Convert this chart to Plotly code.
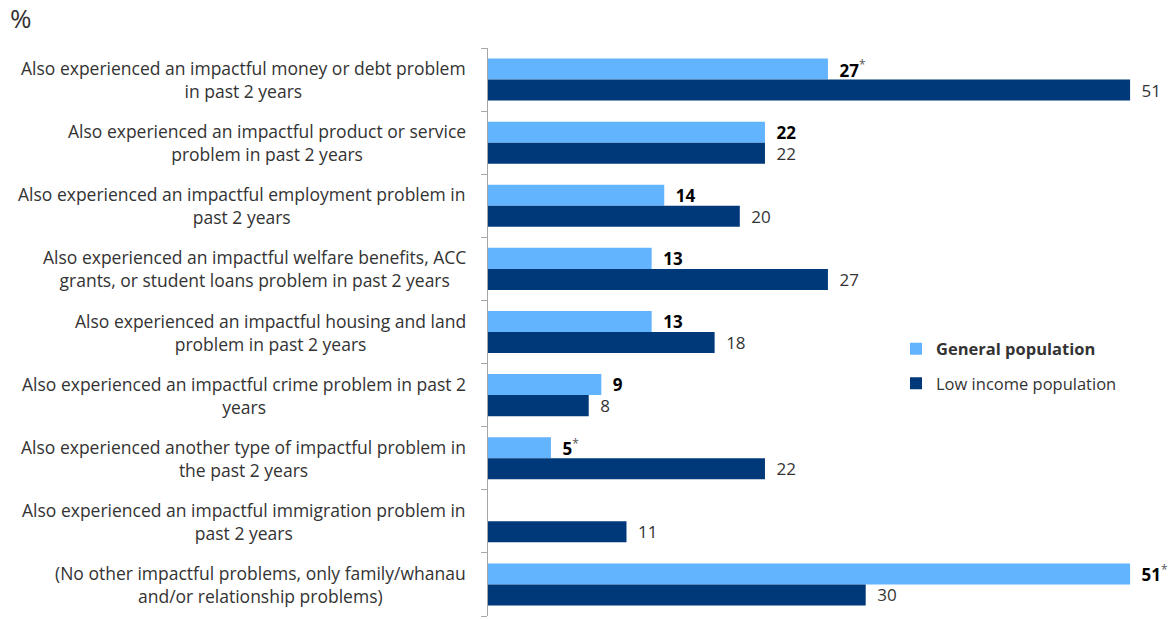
import plotly.graph_objects as go

# Category labels (wrapped as shown on the axis)
categories = [
    "Also experienced an impactful money or debt problem<br>in past 2 years",
    "Also experienced an impactful product or service<br>problem in past 2 years",
    "Also experienced an impactful employment problem in<br>past 2 years",
    "Also experienced an impactful welfare benefits, ACC<br>grants, or student loans problem in past 2 years",
    "Also experienced an impactful housing and land<br>problem in past 2 years",
    "Also experienced an impactful crime problem in past 2<br>years",
    "Also experienced another type of impactful problem in<br>the past 2 years",
    "Also experienced an impactful immigration problem in<br>past 2 years",
    "(No other impactful problems, only family/whanau<br>and/or relationship problems)",
]

general_population = [27, 22, 14, 13, 13, 9, 5, None, 51]
general_significant = [True, False, False, False, False, False, True, False, True]
low_income_population = [51, 22, 20, 27, 18, 8, 22, 11, 30]

LIGHT = "#63B4FE"
DARK = "#00397A"
FONT = "Open Sans"
PAD = "\u2002"

positions = list(range(len(categories)))

general_text = []
for v, sig in zip(general_population, general_significant):
    if v is None:
        general_text.append("")
    else:
        t = f"{PAD}<b>{v}</b>"
        if sig:
            t += "<sup><span style='color:#555'>*</span></sup>"
        general_text.append(t)

low_text = [f"{PAD}{v}" for v in low_income_population]

fig = go.Figure()
fig.add_trace(go.Bar(
    y=positions, x=general_population, orientation="h",
    name="<b>General population</b>",
    marker=dict(color=LIGHT, line=dict(width=0)),
    text=general_text, textposition="outside", cliponaxis=False,
    constraintext="none",
    textfont=dict(family=FONT, size=17, color="#000000"),
    legendgroup="g", hoverinfo="skip",
))
fig.add_trace(go.Bar(
    y=positions, x=low_income_population, orientation="h",
    name="Low income population",
    marker=dict(color=DARK, line=dict(width=0)),
    text=low_text, textposition="outside", cliponaxis=False,
    constraintext="none",
    textfont=dict(family=FONT, size=17, color="#333333"),
    legendgroup="l", hoverinfo="skip",
))

left = 488
plot_w = 1176 - left
x_max = plot_w / 12.59

annotations = []
for i, label in enumerate(categories):
    annotations.append(dict(
        x=(468 - left) / plot_w, xref="paper", xanchor="right",
        y=i, yref="y", yanchor="middle",
        text=label, showarrow=False, align="center",
        font=dict(family=FONT, size=17.5, color="#333333"),
    ))

fig.update_layout(
    width=1176, height=619,
    margin=dict(l=left, r=0, t=48, b=3),
    paper_bgcolor="white", plot_bgcolor="white",
    barmode="group", bargap=1 / 3, bargroupgap=0,
    showlegend=True,
    legend=dict(
        x=(896 - left) / plot_w, y=(616 - 366) / 568, xanchor="left", yanchor="middle",
        font=dict(family=FONT, size=16.5, color="#333333"),
        bgcolor="rgba(0,0,0,0)", traceorder="grouped", tracegroupgap=10,
        itemwidth=30,
    ),
    title=dict(
        text="%", x=10 / 1176, xanchor="left", xref="container",
        y=1 - 10 / 619, yanchor="top", yref="container",
        font=dict(family=FONT, size=26, color="#333333"),
    ),
    xaxis=dict(range=[0, x_max], visible=False, fixedrange=True),
    yaxis=dict(
        type="linear", range=[len(categories) - 0.5, -0.5],
        showticklabels=False, showgrid=False, zeroline=False,
        showline=True, linecolor="#A6A6A6", linewidth=1,
        ticks="outside", ticklen=6, tickcolor="#A6A6A6",
        tickmode="array", tickvals=[i - 0.5 for i in range(len(categories) + 1)],
    ),
    annotations=annotations,
)

fig.write_html("out.html")
